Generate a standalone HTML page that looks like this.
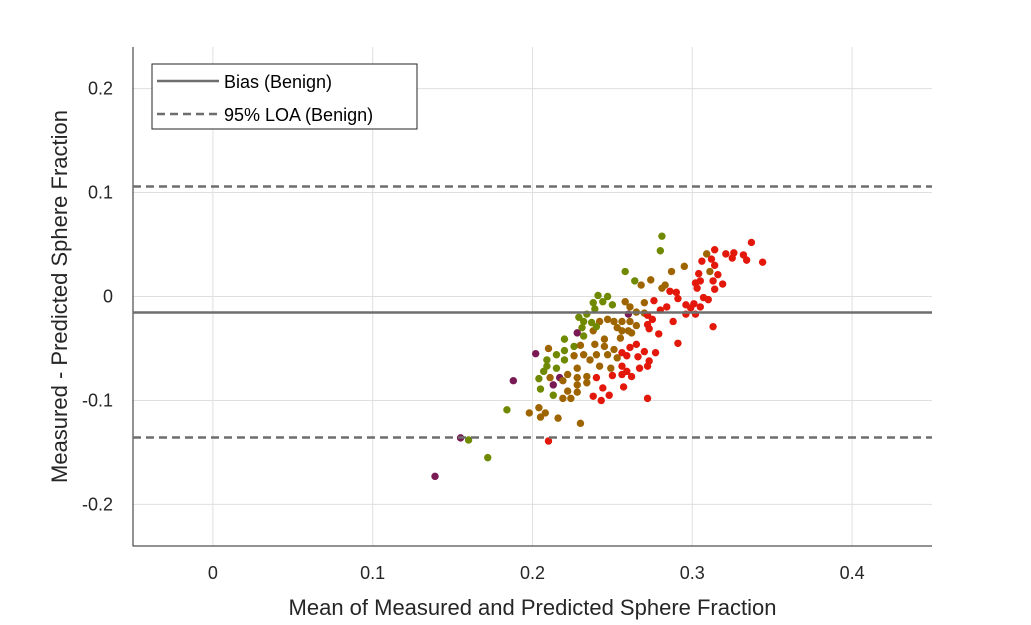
<!DOCTYPE html>
<html><head><meta charset="utf-8"><style>
body{margin:0;background:#fff;}
svg{display:block;font-family:"Liberation Sans",sans-serif;}
</style></head><body>
<svg id="chart" width="1031" height="625"></svg>
<script>
const xTicks=[0,0.1,0.2,0.3,0.4];
const xTickLabels=["0","0.1","0.2","0.3","0.4"];
const yTicks=[-0.2,-0.1,0,0.1,0.2];
const yTickLabels=["-0.2","-0.1","0","0.1","0.2"];
const biasValue=-0.0154;
const loaUpper=0.1058;
const loaLower=-0.1356;
const meanVals=[0.281,0.280,0.337,0.326,0.321,0.314,0.309,0.332,0.334,0.344,0.325,0.312,0.306,0.314,0.295,0.287,0.311,0.304,0.316,0.258,0.264,0.268,0.274,0.319,0.313,0.302,0.305,0.314,0.281,0.283,0.286,0.290,0.303,0.241,0.247,0.244,0.238,0.250,0.258,0.261,0.270,0.276,0.291,0.296,0.307,0.310,0.301,0.284,0.280,0.299,0.305,0.239,0.234,0.229,0.260,0.265,0.270,0.272,0.275,0.288,0.296,0.302,0.232,0.237,0.242,0.247,0.251,0.256,0.261,0.265,0.272,0.273,0.228,0.231,0.238,0.240,0.253,0.256,0.260,0.262,0.279,0.313,0.232,0.255,0.245,0.220,0.202,0.210,0.215,0.220,0.220,0.226,0.230,0.232,0.239,0.245,0.251,0.256,0.261,0.265,0.270,0.277,0.291,0.226,0.236,0.240,0.247,0.253,0.259,0.266,0.273,0.209,0.209,0.215,0.207,0.204,0.211,0.217,0.222,0.228,0.228,0.234,0.242,0.249,0.256,0.259,0.262,0.267,0.272,0.240,0.250,0.256,0.188,0.205,0.213,0.219,0.228,0.234,0.222,0.228,0.213,0.219,0.224,0.238,0.244,0.248,0.257,0.243,0.272,0.184,0.198,0.204,0.205,0.208,0.216,0.230,0.139,0.155,0.160,0.172,0.210];
const diffVals=[0.058,0.044,0.052,0.042,0.041,0.045,0.041,0.040,0.035,0.033,0.037,0.036,0.034,0.030,0.029,0.024,0.024,0.022,0.021,0.024,0.015,0.011,0.016,0.012,0.015,0.013,0.015,0.007,0.008,0.011,0.005,0.004,0.008,0.001,0.000,-0.005,-0.006,-0.008,-0.005,-0.010,-0.006,-0.004,-0.002,-0.008,-0.001,-0.003,-0.007,-0.010,-0.013,-0.011,-0.010,-0.012,-0.017,-0.020,-0.017,-0.015,-0.016,-0.018,-0.022,-0.024,-0.017,-0.017,-0.024,-0.025,-0.024,-0.022,-0.024,-0.024,-0.024,-0.028,-0.027,-0.031,-0.035,-0.030,-0.033,-0.029,-0.030,-0.033,-0.033,-0.035,-0.036,-0.029,-0.038,-0.040,-0.041,-0.041,-0.055,-0.050,-0.056,-0.052,-0.061,-0.048,-0.047,-0.056,-0.046,-0.048,-0.051,-0.054,-0.049,-0.046,-0.053,-0.054,-0.045,-0.057,-0.061,-0.056,-0.056,-0.059,-0.057,-0.058,-0.062,-0.061,-0.067,-0.069,-0.072,-0.079,-0.078,-0.078,-0.075,-0.069,-0.078,-0.077,-0.067,-0.069,-0.067,-0.072,-0.077,-0.069,-0.067,-0.078,-0.076,-0.075,-0.081,-0.089,-0.085,-0.081,-0.085,-0.083,-0.091,-0.092,-0.095,-0.098,-0.098,-0.096,-0.088,-0.095,-0.087,-0.100,-0.098,-0.109,-0.112,-0.107,-0.116,-0.112,-0.117,-0.122,-0.173,-0.136,-0.138,-0.155,-0.139];
const groupVals=("ggrrrrorrr"+"rrrrooorrg"+"goorrrrroo"+"rrrgggggoo"+"orrrrrrrrr"+"rgggpoorrr"+"rrggoooooo"+"rrpgogoooo"+"rrgoogpogg"+"ggooooorrr"+"rrrooooorr"+"rgggggopoo"+"oooorrrrrr"+"rrpgpooooo"+"goorrrrrrg"+"ooooooppggr").split("");
const groupColors={g:"#6f8a00",o:"#9e6400",r:"#e3180a",p:"#7a1a55"};

const NS="http://www.w3.org/2000/svg";
const svg=document.getElementById("chart");
const L=133,R=932,T=47,B=546;
const X0=-0.05,X1=0.45,Y0=-0.24,Y1=0.24;
const sx=v=>L+(v-X0)/(X1-X0)*(R-L);
const sy=v=>B-(v-Y0)/(Y1-Y0)*(B-T);
function mk(tag,attrs,parent){const e=document.createElementNS(NS,tag);for(const k in attrs)e.setAttribute(k,attrs[k]);(parent||svg).appendChild(e);return e;}

const grid=mk("g",{});


xTicks.forEach((t,i)=>{
  mk("line",{x1:sx(t),x2:sx(t),y1:T,y2:B,stroke:"#dfdfdf","stroke-width":1},grid);
  const tx=mk("text",{x:sx(t),y:B+33,"text-anchor":"middle","font-size":18,fill:"#262626"});
  tx.textContent=xTickLabels[i];
  
  
});
yTicks.forEach((t,i)=>{
  mk("line",{x1:L,x2:R,y1:sy(t),y2:sy(t),stroke:"#dfdfdf","stroke-width":1},grid);
  const tx=mk("text",{x:L-20,y:sy(t)+6,"text-anchor":"end","font-size":18,fill:"#262626"});
  tx.textContent=yTickLabels[i];
  
  
});
const ax=mk("path",{d:`M${L},${T}V${B}H${R}`,fill:"none",stroke:"#262626","stroke-width":1});



const pts=mk("g",{});


meanVals.forEach((m,i)=>{
  const c=mk("circle",{cx:sx(m),cy:sy(diffVals[i]),r:3.7,fill:groupColors[groupVals[i]]||"#9e6400"},pts);
  
  
});

const bl=mk("line",{x1:L,x2:R,y1:sy(biasValue),y2:sy(biasValue),stroke:"#6e6e6e","stroke-width":2.5});


[loaUpper,loaLower].forEach(v=>{
  const l=mk("line",{x1:L,x2:R,y1:sy(v),y2:sy(v),stroke:"#6e6e6e","stroke-width":2.5,"stroke-dasharray":"8,5"});
  
  
});

const xt=mk("text",{x:(L+R)/2,y:615,"text-anchor":"middle","font-size":22,fill:"#262626"});
xt.textContent="Mean of Measured and Predicted Sphere Fraction";


const yt=mk("text",{x:0,y:0,"text-anchor":"middle","font-size":22,fill:"#262626",transform:`translate(67,${(T+B)/2}) rotate(-90)`});
yt.textContent="Measured - Predicted Sphere Fraction";



const lg=mk("g",{});


mk("rect",{x:152,y:64,width:265,height:65,fill:"#fff",stroke:"#262626","stroke-width":1},lg);
const e1=mk("line",{x1:157,x2:219,y1:81,y2:81,stroke:"#6e6e6e","stroke-width":2.5},lg);


const t1=mk("text",{x:224,y:88,"font-size":18,fill:"#000"},lg);
t1.textContent="Bias (Benign)";


const e2=mk("line",{x1:157,x2:219,y1:114,y2:114,stroke:"#6e6e6e","stroke-width":2.5,"stroke-dasharray":"8,5"},lg);


const t2=mk("text",{x:224,y:121,"font-size":18,fill:"#000"},lg);
t2.textContent="95% LOA (Benign)";


</script>
</body></html>
